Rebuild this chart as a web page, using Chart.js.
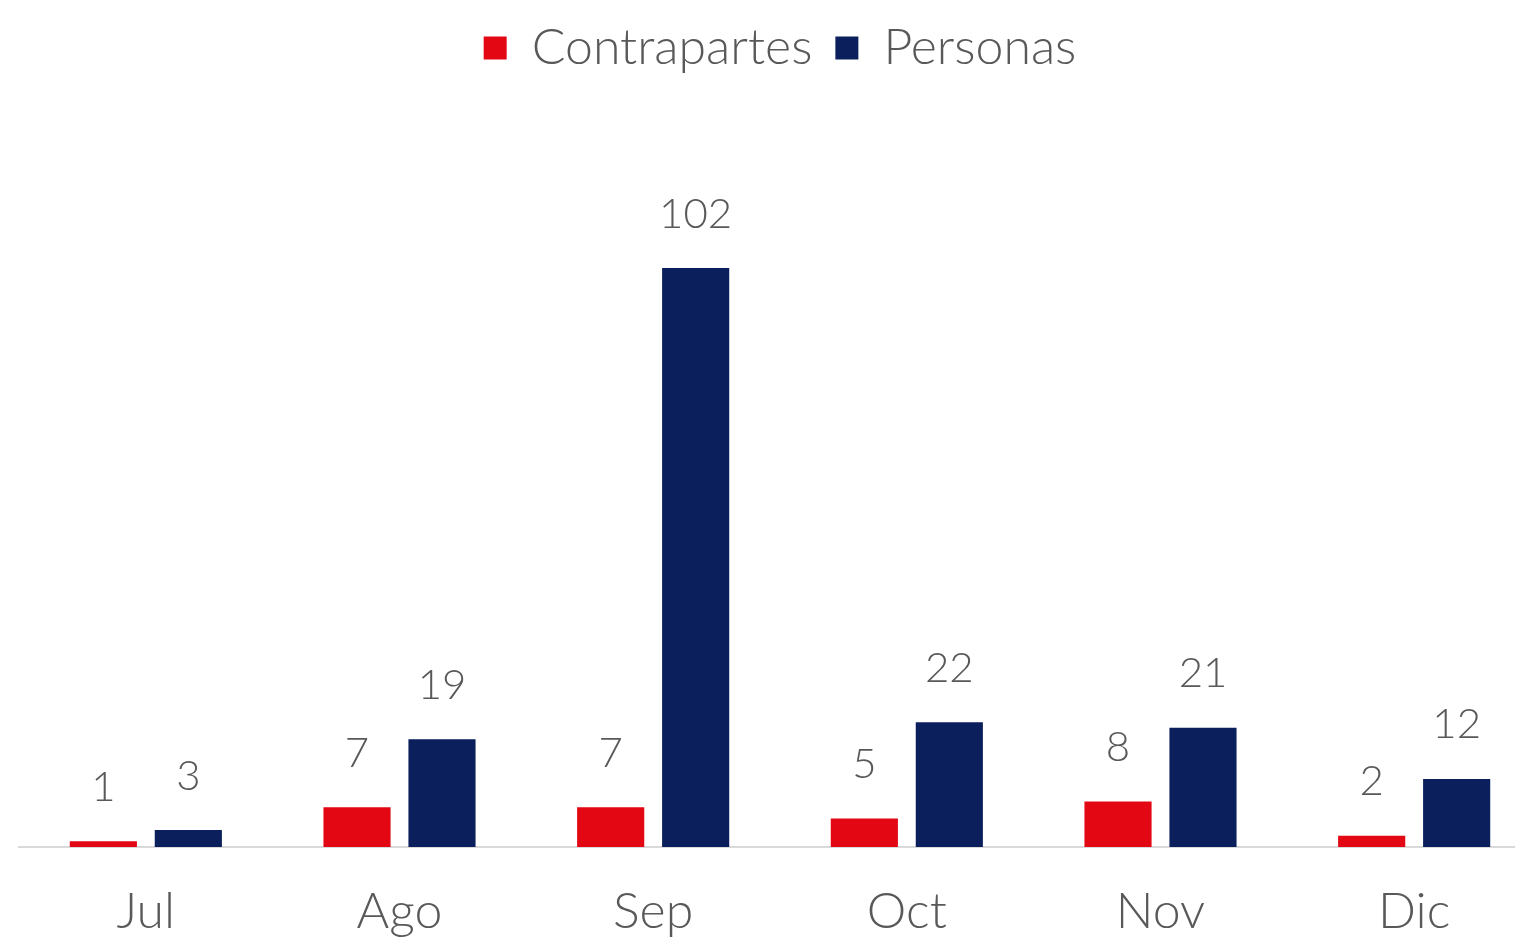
<!DOCTYPE html>
<html>
<head>
<meta charset="utf-8">
<script src="https://cdn.jsdelivr.net/npm/chart.js@4.4.1/dist/chart.umd.min.js"></script>
<style>
  html, body { margin: 0; padding: 0; background: #ffffff; overflow: hidden; }
  #wrap { width: 1541px; height: 939px; position: relative; overflow: hidden; }
</style>
</head>
<body>
<div id="wrap"><canvas id="mainChart" width="1541" height="977"></canvas></div>
<script>
// Data
const months = ['Jul', 'Ago', 'Sep', 'Oct', 'Nov', 'Dic'];
const contrapartes = [1, 7, 7, 5, 8, 2];
const personas = [3, 19, 102, 22, 21, 12];

const RED = '#e30613';
const NAVY = '#0a1f5c';
const TEXT = '#595959';
const FONT = "'Lato', 'Open Sans', sans-serif";

// Value labels above each bar (no datalabels plugin offline)
const valueLabels = {
    id: 'valueLabels',
    afterDatasetsDraw(chart) {
        const ctx = chart.ctx;
        ctx.save();
        ctx.font = '300 42px ' + FONT;
        ctx.fillStyle = TEXT;
        ctx.textAlign = 'center';
        ctx.textBaseline = 'middle';
        chart.data.datasets.forEach((ds, i) => {
            const meta = chart.getDatasetMeta(i);
            meta.data.forEach((bar, j) => {
                ctx.fillText(String(ds.data[j]), bar.x, bar.y - 54);
            });
        });
        ctx.restore();
    }
};

const ctxMain = document.getElementById('mainChart');
new Chart(ctxMain.getContext('2d'), {
    type: 'bar',
    data: {
        labels: months,
        datasets: [
            { label: 'Contrapartes', data: contrapartes, backgroundColor: RED,
              categoryPercentage: 0.67, barPercentage: 0.79 },
            { label: 'Personas', data: personas, backgroundColor: NAVY,
              categoryPercentage: 0.67, barPercentage: 0.79 }
        ]
    },
    options: {
        responsive: false,
        animation: false,
        layout: { padding: { left: 19, right: 0, top: 0, bottom: 0 } },
        plugins: {
            legend: {
                position: 'top',
                labels: {
                    color: TEXT,
                    font: { family: FONT, size: 50, weight: '300' },
                    boxWidth: 23,
                    boxHeight: 23,
                    padding: 23
                }
            },
            tooltip: { enabled: false }
        },
        scales: {
            x: {
                grid: { display: false, drawTicks: false },
                border: { display: true, color: '#d9d9d9', width: 2 },
                ticks: {
                    color: TEXT,
                    font: { family: FONT, size: 50, weight: '300' },
                    padding: 35
                }
            },
            y: {
                display: false,
                min: 0,
                max: 134.6
            }
        }
    },
    plugins: [valueLabels]
});
</script>
</body>
</html>
